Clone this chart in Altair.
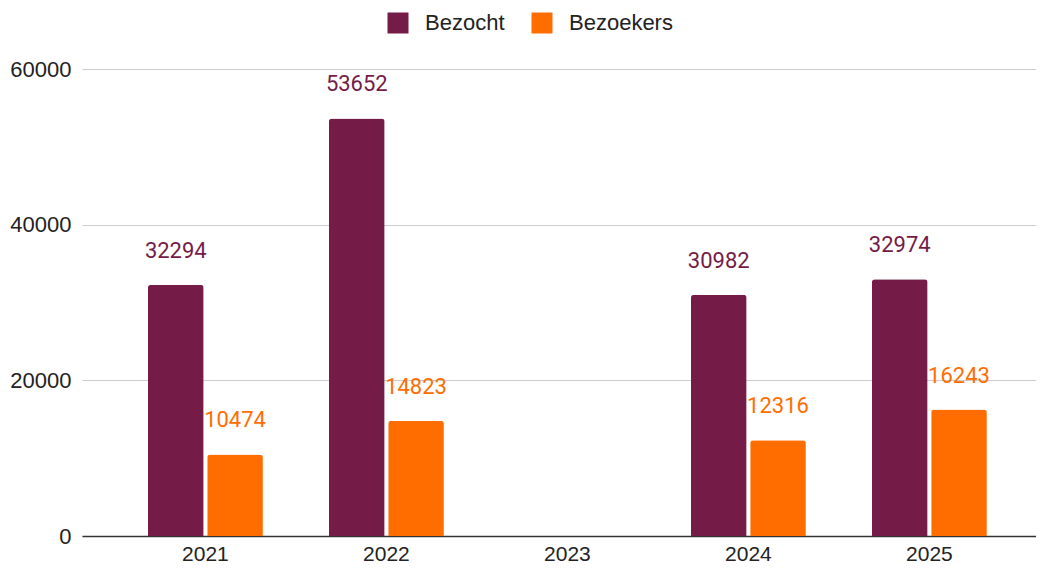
import altair as alt
import pandas as pd

years = ["2021", "2022", "2023", "2024", "2025"]
bezocht = [32294, 53652, None, 30982, 32974]
bezoekers = [10474, 14823, None, 12316, 16243]
series = ["Bezocht", "Bezoekers"]
colors = ["#741b47", "#ff6d01"]

rows = []
for i, y in enumerate(years):
    rows.append({"year": y, "series": series[0], "value": bezocht[i]})
    rows.append({"year": y, "series": series[1], "value": bezoekers[i]})
df = pd.DataFrame(rows)

x_enc = alt.X("year:N", scale=alt.Scale(domain=years, paddingInner=0.365, paddingOuter=0.318, align=0.573),
              axis=alt.Axis(title=None, labelAngle=0, labelFont="Liberation Sans", labelFontSize=21,
                            labelColor="#222222", labelPadding=7, ticks=False, domainColor="#333333",
                            domainWidth=1.5, grid=False))
xo = alt.XOffset("series:N", scale=alt.Scale(domain=series, paddingInner=0.06))
y_enc = alt.Y("value:Q", scale=alt.Scale(domain=[0, 60000], nice=False),
              axis=alt.Axis(title=None, values=[0, 20000, 40000, 60000], format="d",
                            labelFont="Liberation Sans", labelFontSize=22, labelColor="#222222",
                            labelPadding=11, ticks=False, domain=False, gridColor="#cccccc", gridWidth=1.2))
color_enc = alt.Color("series:N", scale=alt.Scale(domain=series, range=colors),
                      legend=alt.Legend(title=None, orient="none", legendX=305, legendY=-57, direction="horizontal",
                                        symbolType="square", symbolSize=441, symbolStrokeWidth=0,
                                        labelFont="Liberation Sans", labelFontSize=22, labelColor="#222222",
                                        labelOffset=16, columnPadding=26, padding=0))

base = alt.Chart(df).transform_filter("datum.value != null")

bars = base.mark_bar(cornerRadiusTopLeft=3, cornerRadiusTopRight=3).encode(
    x=x_enc, xOffset=xo, y=y_enc, color=color_enc
)
labels = base.mark_text(font="Roboto", fontSize=22, baseline="middle", dy=-34).encode(
    x=x_enc, xOffset=xo, y=y_enc, text=alt.Text("value:Q", format="d"), color=color_enc
)

chart = alt.layer(bars, labels).properties(
    width=954, height=467,
    autosize=alt.AutoSizeParams(type="none"),
    padding={"left": 74, "top": 61, "right": 0, "bottom": 27},
).configure_view(stroke=None).configure_axisY(zindex=0).configure_axisX(zindex=1)

chart.save("out.html", embed_options={"renderer": "svg", "actions": False})
